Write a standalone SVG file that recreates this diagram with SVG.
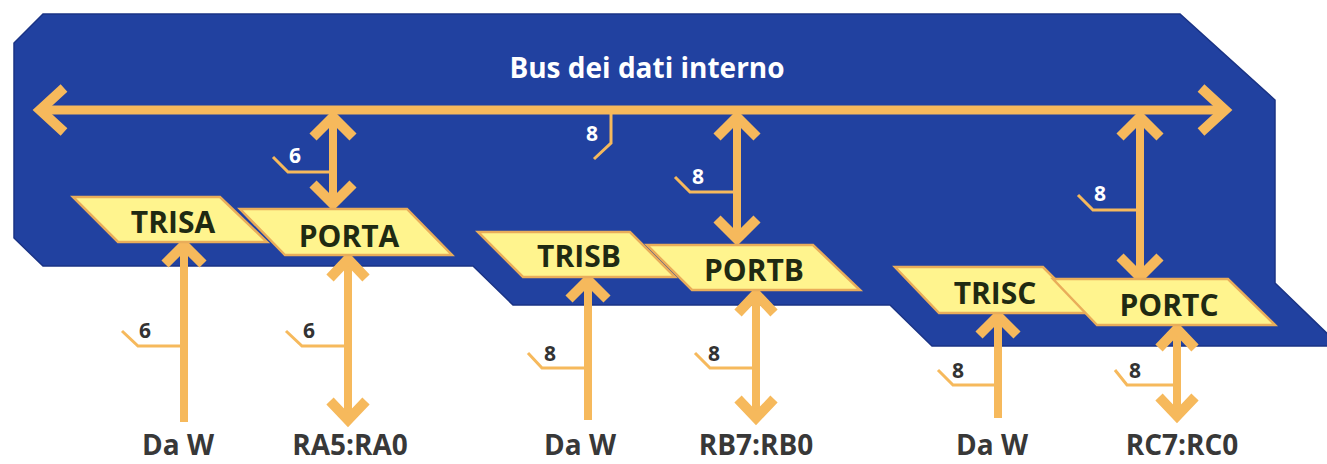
<svg xmlns="http://www.w3.org/2000/svg" xmlns:xlink="http://www.w3.org/1999/xlink" width="1327" height="464" viewBox="0 0 1327 464">
<defs>
<style>
.bg{fill:#2141a0;stroke:#1a3385;stroke-width:1.5}
.bus{stroke:#f6b95c;stroke-width:9;fill:none}
.ln{stroke:#f6b95c;stroke-width:8;fill:none}
.chev{stroke:#f6b95c;stroke-width:10;fill:none;stroke-linejoin:miter;stroke-linecap:butt}
.tap{stroke:#f6b95c;stroke-width:3;fill:none}
.reg{fill:#fff48e;stroke:#e9ad5a;stroke-width:2.5}
.rt{font-family:"Open Sans","Liberation Sans",sans-serif;font-weight:bold;font-size:30px;fill:#1f2a12;text-anchor:middle}
.lbl{font-family:"Open Sans","Liberation Sans",sans-serif;font-weight:bold;font-size:28px;fill:#383838;text-anchor:middle}
.nw{font-family:"Open Sans","Liberation Sans",sans-serif;font-weight:bold;font-size:21px;fill:#ffffff;text-anchor:middle}
.nd{font-family:"Open Sans","Liberation Sans",sans-serif;font-weight:bold;font-size:21px;fill:#333333;text-anchor:middle}
.title{font-family:"Open Sans","Liberation Sans",sans-serif;font-weight:bold;font-size:28px;fill:#ffffff;text-anchor:middle}
</style>
</defs>

<path id="background" class="bg" d="M43,14 H1180 L1275,100 V283 L1340,346 H932 L890,305 H513 L473,266 H43 L14,238 V43 Z"/>

<g id="connectors">
  <!-- internal bus -->
  <line class="bus" x1="42" y1="110" x2="1222" y2="110"/>
  <path class="chev" d="M64,88 L40,110 L64,132"/>
  <path class="chev" d="M1201,88 L1225,110 L1201,132"/>
  <path class="tap" d="M611,110 V143 L594,159"/>

  <!-- PORTA bus link -->
  <line class="ln" x1="333" y1="120" x2="333" y2="201"/>
  <path class="chev" d="M313,137 L333,117 L353,137"/>
  <path class="chev" d="M313,184 L333,204 L353,184"/>
  <path class="tap" d="M333,172 H288 L273,157"/>

  <!-- TRISA from W -->
  <line class="ln" x1="184" y1="248" x2="184" y2="422"/>
  <path class="chev" d="M165,264 L184,245 L203,264"/>
  <path class="tap" d="M184,346 H138 L122,331"/>

  <!-- PORTA pins -->
  <line class="ln" x1="348" y1="262" x2="348" y2="417"/>
  <path class="chev" d="M330,278 L348,259 L366,278"/>
  <path class="chev" d="M330,401 L348,420 L366,401"/>
  <path class="tap" d="M348,346 H302 L286,331"/>

  <!-- PORTB bus link -->
  <line class="ln" x1="737" y1="120" x2="737" y2="236"/>
  <path class="chev" d="M717,137 L737,117 L757,137"/>
  <path class="chev" d="M717,219 L737,239 L757,219"/>
  <path class="tap" d="M737,192 H690 L675,177"/>

  <!-- TRISB from W -->
  <line class="ln" x1="588" y1="283" x2="588" y2="420"/>
  <path class="chev" d="M569,299 L588,280 L607,299"/>
  <path class="tap" d="M588,368 H542 L528,353"/>

  <!-- PORTB pins -->
  <line class="ln" x1="756" y1="297" x2="756" y2="415"/>
  <path class="chev" d="M738,313 L756,294 L774,313"/>
  <path class="chev" d="M738,399 L756,418 L774,399"/>
  <path class="tap" d="M756,368 H710 L695,353"/>

  <!-- PORTC bus link -->
  <line class="ln" x1="1140" y1="120" x2="1140" y2="274"/>
  <path class="chev" d="M1120,137 L1140,117 L1160,137"/>
  <path class="chev" d="M1120,257 L1140,277 L1160,257"/>
  <path class="tap" d="M1140,210 H1093 L1078,195"/>

  <!-- TRISC from W -->
  <line class="ln" x1="998" y1="319" x2="998" y2="418"/>
  <path class="chev" d="M979,335 L998,316 L1017,335"/>
  <path class="tap" d="M998,385 H953 L938,370"/>

  <!-- PORTC pins -->
  <line class="ln" x1="1177" y1="332" x2="1177" y2="413"/>
  <path class="chev" d="M1159,348 L1177,329 L1195,348"/>
  <path class="chev" d="M1159,397 L1177,416 L1195,397"/>
  <path class="tap" d="M1177,385 H1127 L1115,370"/>
</g>

<g id="bus-label">
  <text class="title" x="647" y="78">Bus dei dati interno</text>
  <text class="nw" x="592" y="141">8</text>
</g>

<g id="width-labels">
  <text class="nw" x="295" y="163">6</text>
  <text class="nd" x="145" y="338">6</text>
  <text class="nd" x="309" y="338">6</text>
  <text class="nw" x="698" y="184">8</text>
  <text class="nd" x="550" y="361">8</text>
  <text class="nd" x="714" y="361">8</text>
  <text class="nw" x="1100" y="201">8</text>
  <text class="nd" x="958" y="378">8</text>
  <text class="nd" x="1135" y="378">8</text>
</g>

<g id="TRISA">
  <polygon class="reg" points="73,197 220,197 267,242 118,242"/>
  <text class="rt" x="173" y="233">TRISA</text>
</g>
<g id="PORTA">
  <polygon class="reg" points="240,209 407,209 452,255 285,255"/>
  <text class="rt" x="349" y="247">PORTA</text>
</g>
<g id="TRISB">
  <polygon class="reg" points="478,232 630,232 675,277 523,277"/>
  <text class="rt" x="579" y="267">TRISB</text>
</g>
<g id="PORTB">
  <polygon class="reg" points="647,245 813,245 860,290 692,290"/>
  <text class="rt" x="754" y="281">PORTB</text>
</g>
<g id="TRISC">
  <polygon class="reg" points="895,267 1043,267 1089,313 939,313"/>
  <text class="rt" x="995" y="304">TRISC</text>
</g>
<g id="PORTC">
  <polygon class="reg" points="1053,279 1228,279 1275,325 1097,325"/>
  <text class="rt" x="1169" y="316">PORTC</text>
</g>

<g id="labels">
  <text class="lbl" x="178" y="455">Da W</text>
  <text class="lbl" x="350" y="455">RA5:RA0</text>
  <text class="lbl" x="580" y="455">Da W</text>
  <text class="lbl" x="756" y="455">RB7:RB0</text>
  <text class="lbl" x="992" y="455">Da W</text>
  <text class="lbl" x="1182" y="455">RC7:RC0</text>
</g>
</svg>
